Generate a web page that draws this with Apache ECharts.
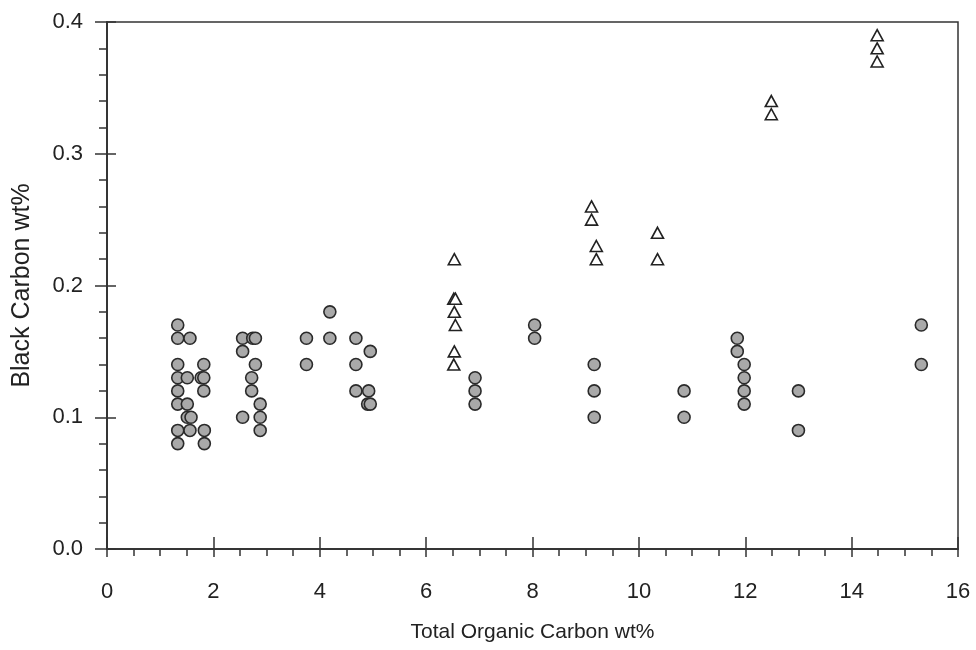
<!DOCTYPE html>
<html>
<head>
<meta charset="utf-8">
<script src="https://cdn.jsdelivr.net/npm/echarts@6/dist/echarts.min.js"></script>
<style>html,body{margin:0;padding:0;background:#fff;}#c{width:976px;height:650px;}</style>
</head>
<body>
<div id="c"></div>
<script>
// Circles (gray filled)
var circleX = [1.33,1.33,1.56,1.33,1.33,1.51,1.82,1.77,1.82,1.33,1.82,1.33,1.51,1.51,1.58,1.33,1.56,1.83,1.33,1.83,
  2.55,2.74,2.79,2.55,2.79,2.72,2.72,2.88,2.55,2.88,2.88,
  4.19,3.75,4.19,4.68,4.95,3.75,4.68,4.68,4.92,4.90,4.95,
  6.92,6.92,6.92,8.04,8.04,
  9.16,9.16,9.16,10.85,10.85,
  11.85,11.85,11.98,11.98,11.98,11.98,13.0,13.0,15.31,15.31];
var circleY = [0.17,0.16,0.16,0.14,0.13,0.13,0.14,0.13,0.13,0.12,0.12,0.11,0.11,0.10,0.10,0.09,0.09,0.09,0.08,0.08,
  0.16,0.16,0.16,0.15,0.14,0.13,0.12,0.11,0.10,0.10,0.09,
  0.18,0.16,0.16,0.16,0.15,0.14,0.14,0.12,0.12,0.11,0.11,
  0.13,0.12,0.11,0.17,0.16,
  0.14,0.12,0.10,0.12,0.10,
  0.16,0.15,0.14,0.13,0.12,0.11,0.12,0.09,0.17,0.14];
// Triangles (open)
var triX = [6.53,6.52,6.55,6.53,6.55,6.53,6.52,9.11,9.11,9.20,9.20,10.35,10.35,12.49,12.49,14.48,14.48,14.48];
var triY = [0.22,0.19,0.19,0.18,0.17,0.15,0.14,0.26,0.25,0.23,0.22,0.24,0.22,0.34,0.33,0.39,0.38,0.37];
var xTicks = [0,2,4,6,8,10,12,14,16];
var yTicks = [0.0,0.1,0.2,0.3,0.4];

function pairs(xs, ys){ return xs.map(function(x,i){return [x, ys[i]];}); }

var font = '"Liberation Sans", Arial, sans-serif';
var lineCol = '#333';
var clear = 'rgba(255,255,255,0)';
var gridBox = {left:107, right:18, top:22, bottom:101};
var chart = echarts.init(document.getElementById('c'), null, {renderer:'canvas'});
chart.setOption({
  animation:false,
  backgroundColor:'#fff',
  grid:[
    Object.assign({show:true, borderColor:lineCol, borderWidth:1.5, backgroundColor:'transparent'}, gridBox),
    Object.assign({show:false}, gridBox)
  ],
  xAxis:[{
    gridIndex:0, type:'value', min:xTicks[0], max:xTicks[xTicks.length-1], interval:2, position:'bottom',
    axisLine:{show:true, onZero:false, lineStyle:{color:lineCol, width:1.5}},
    axisTick:{show:true, inside:false, length:8, lineStyle:{color:lineCol, width:1.5}},
    minorTick:{show:true, splitNumber:4, length:7, lineStyle:{color:lineCol, width:1.5}},
    splitLine:{show:false},
    axisLabel:{margin:32, fontSize:22, color:'#222', fontFamily:font},
    name:'Total Organic Carbon wt%', nameLocation:'middle', nameGap:73,
    nameTextStyle:{fontSize:21, color:'#222', fontFamily:font}
  },{
    gridIndex:1, type:'value', min:xTicks[0], max:xTicks[xTicks.length-1], interval:2, position:'bottom',
    axisLine:{show:true, onZero:false, lineStyle:{color:lineCol, width:1.5}},
    axisTick:{show:true, inside:true, length:12, lineStyle:{color:lineCol, width:1.5}},
    axisLabel:{show:true, color:clear, fontSize:8, margin:30}, splitLine:{show:false}
  }],
  yAxis:[{
    gridIndex:0, type:'value', min:yTicks[0], max:yTicks[yTicks.length-1], interval:0.1, position:'left',
    axisLine:{show:true, onZero:false, lineStyle:{color:lineCol, width:1.5}},
    axisTick:{show:true, inside:false, length:12, lineStyle:{color:lineCol, width:1.5}},
    minorTick:{show:true, splitNumber:5, length:8, lineStyle:{color:lineCol, width:1.5}},
    splitLine:{show:false},
    axisLabel:{margin:24, fontSize:22, color:'#222', fontFamily:font, formatter:function(v){return v.toFixed(1);}},
    name:'Black Carbon wt%', nameLocation:'middle', nameGap:72,
    nameTextStyle:{fontSize:25, color:'#222', fontFamily:font}
  },{
    gridIndex:1, type:'value', min:yTicks[0], max:yTicks[yTicks.length-1], interval:0.1, position:'left',
    axisLine:{show:true, onZero:false, lineStyle:{color:lineCol, width:1.5}},
    axisTick:{show:true, inside:true, length:9, lineStyle:{color:lineCol, width:1.5}},
    axisLabel:{show:true, color:clear, fontSize:8, margin:30}, splitLine:{show:false}
  }],
  series:[{
    type:'scatter', xAxisIndex:1, yAxisIndex:1, data:[[8,0.2]], symbolSize:0, silent:true,
    itemStyle:{opacity:0}
  },{
    type:'scatter', xAxisIndex:0, yAxisIndex:0,
    data:pairs(circleX, circleY), symbol:'circle', symbolSize:12,
    itemStyle:{color:'#a9a9a9', borderColor:'#2a2a2a', borderWidth:1.6, opacity:1}
  },{
    type:'scatter', xAxisIndex:0, yAxisIndex:0,
    data:pairs(triX, triY), symbol:'triangle', symbolSize:[12,11],
    itemStyle:{color:'#fff', borderColor:'#222', borderWidth:1.6, opacity:1}
  }]
});
</script>
</body>
</html>
